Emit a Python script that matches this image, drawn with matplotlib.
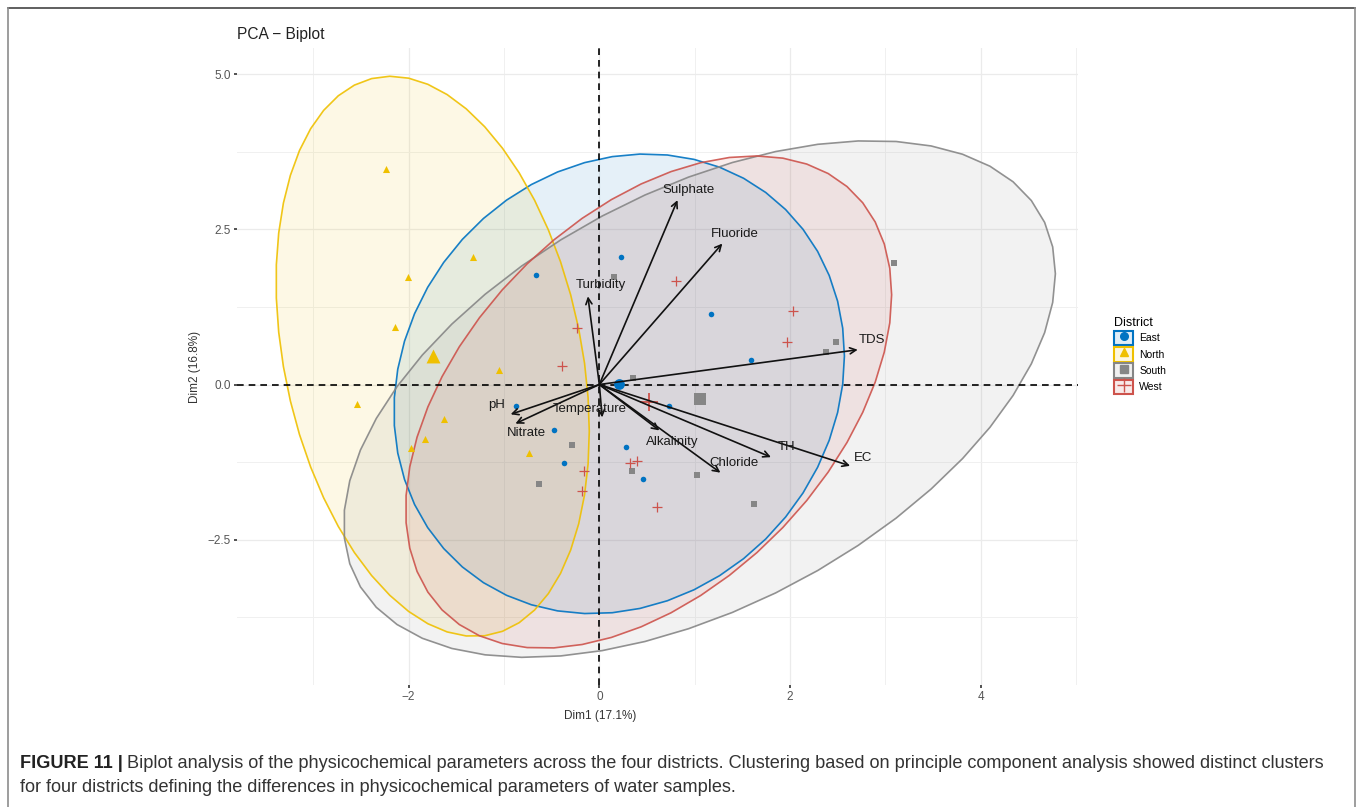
import numpy as np
import matplotlib
matplotlib.use("Agg")
import matplotlib.pyplot as plt
from matplotlib.patches import Polygon, Patch
from matplotlib.lines import Line2D
from matplotlib.legend_handler import HandlerTuple

plt.rcParams['font.family'] = ['Liberation Sans', 'DejaVu Sans']

# individual sample coordinates on the first two dimensions
districts = ['East', 'North', 'South', 'West']
east_x = [0.23, -0.66, 1.17, 1.59, -0.87, -0.48, -0.37, 0.28, 0.46, 0.73]
east_y = [2.06, 1.76, 1.13, 0.39, -0.35, -0.74, -1.26, -1.00, -1.53, -0.35]
north_x = [-2.24, -2.01, -1.32, -2.14, -1.05, -2.54, -1.63, -1.83, -1.98, -0.74]
north_y = [3.47, 1.73, 2.05, 0.92, 0.24, -0.32, -0.55, -0.87, -1.02, -1.11]
south_x = [0.15, 0.35, -0.29, -0.63, 0.34, 1.02, 3.09, 2.48, 2.38, 1.62]
south_y = [1.73, 0.11, -0.97, -1.60, -1.40, -1.45, 1.95, 0.69, 0.53, -1.93]
west_x = [0.80, -0.23, -0.39, -0.16, -0.18, 0.32, 0.40, 0.61, 2.03, 1.97]
west_y = [1.66, 0.91, 0.30, -1.40, -1.71, -1.26, -1.23, -1.97, 1.19, 0.68]

# variable loadings (arrow tips)
variables = ['Sulphate', 'Fluoride', 'Turbidity', 'TDS', 'pH', 'Nitrate',
             'Temperature', 'Alkalinity', 'Chloride', 'TH', 'EC']
var_x = [0.82, 1.29, -0.12, 2.71, -0.93, -0.88, 0.03, 0.63, 1.27, 1.80, 2.63]
var_y = [2.97, 2.27, 1.42, 0.56, -0.48, -0.63, -0.53, -0.74, -1.42, -1.17, -1.31]

dim1_pct = 17.1
dim2_pct = 16.8

groups = {
    'East': (east_x, east_y),
    'North': (north_x, north_y),
    'South': (south_x, south_y),
    'West': (west_x, west_y),
}
colors = {'East': '#0073C2', 'North': '#EFC000', 'South': '#868686', 'West': '#CD534C'}
markers = {'East': 'o', 'North': '^', 'South': 's', 'West': '+'}
pt_size = {'East': 16, 'North': 26, 'South': 18, 'West': 60}
mean_size = {'East': 60, 'North': 100, 'South': 65, 'West': 180}

# label offsets from the arrow tips, in points
label_off = {
    'Sulphate': (8, 7), 'Fluoride': (9, 7), 'Turbidity': (9, 8), 'TDS': (10, 7),
    'pH': (-10, 7), 'Nitrate': (8, -7), 'Temperature': (-9, 6), 'Alkalinity': (9, -8),
    'Chloride': (10, 7), 'TH': (11, 7), 'EC': (9, 6),
}


def norm_ellipse(x, y, level=0.95, segments=51):
    # same construction as ggplot2 stat_ellipse(type = "norm")
    pts = np.column_stack([x, y])
    n = len(pts)
    center = pts.mean(axis=0)
    cov = np.cov(pts, rowvar=False)
    d = n - 1
    qf = d / 2.0 * ((1 - level) ** (-2.0 / d) - 1)
    radius = np.sqrt(2 * qf)
    t = np.linspace(0, 2 * np.pi, segments + 1)
    circle = np.column_stack([np.cos(t), np.sin(t)])
    chol = np.linalg.cholesky(cov).T
    return center + radius * circle @ chol


W, H = 1362, 807
fig = plt.figure(figsize=(W / 100, H / 100), dpi=100)
ax = fig.add_axes([237 / W, 1 - 685 / H, (1078 - 237) / W, (685 - 48) / H])
ax.set_xlim(-3.80, 5.02)
ax.set_ylim(-4.84, 5.42)

ax.set_xticks([-2, 0, 2, 4])
ax.set_yticks([-2.5, 0, 2.5, 5.0])
ax.set_xticks([-3, -1, 1, 3, 5], minor=True)
ax.set_yticks([-3.75, -1.25, 1.25, 3.75], minor=True)
ax.grid(which='major', color='#EBEBEB', lw=0.9)
ax.grid(which='minor', color='#F0F0F0', lw=0.7)
ax.set_axisbelow(True)
for s in ax.spines.values():
    s.set_visible(False)
ax.tick_params(which='major', length=2.5, width=1.1, color='#222222',
               labelsize=8.5, labelcolor='#555555', pad=2)
ax.tick_params(which='minor', length=0)

for name in districts:
    ex = norm_ellipse(*groups[name])
    ax.add_patch(Polygon(ex, closed=True, facecolor=colors[name], alpha=0.1,
                         edgecolor='none', zorder=1))
    ax.add_patch(Polygon(ex, closed=True, facecolor='none',
                         edgecolor=colors[name], lw=1.2, alpha=0.9, zorder=1.5))

ax.axhline(0, color='black', lw=1.2, ls=(0, (4, 3)), zorder=2)
ax.axvline(0, color='black', lw=1.2, ls=(0, (4, 3)), zorder=2)

for name in districts:
    gx, gy = groups[name]
    lw = 0.9 if markers[name] == '+' else 0
    ax.scatter(gx, gy, s=pt_size[name], marker=markers[name], color=colors[name],
               linewidths=lw, zorder=3)
    ax.scatter([np.mean(gx)], [np.mean(gy)], s=mean_size[name], marker=markers[name],
               color=colors[name], linewidths=1.3 if lw else 0, zorder=3)

for name, vx, vy in zip(variables, var_x, var_y):
    ax.annotate('', xy=(vx, vy), xytext=(0, 0),
                arrowprops=dict(arrowstyle='->', lw=1.2, color='#111111',
                                shrinkA=0, shrinkB=0, mutation_scale=11),
                zorder=4)
    ax.annotate(name, xy=(vx, vy), xytext=label_off[name], textcoords='offset points',
                ha='center', va='center', fontsize=9.5, color='#1a1a1a', zorder=5)

ax.set_xlabel('Dim1 (%.1f%%)' % dim1_pct, fontsize=8.5, color='#333333')
ax.set_ylabel('Dim2 (%.1f%%)' % dim2_pct, fontsize=8.5, color='#333333')
ax.xaxis.set_label_coords((600 - 237) / (1078 - 237), -(710 - 685) / (685 - 48))
ax.yaxis.set_label_coords(-(237 - 201) / (1078 - 237), 0.5)
fig.text(237 / W, 1 - 34 / H, 'PCA \u2212 Biplot', fontsize=11.2, color='#222222',
         va='center', ha='left')

handles = []
for name in districts:
    box = Patch(facecolor=colors[name], edgecolor='none', alpha=0.12)
    edge = Patch(facecolor='none', edgecolor=colors[name], lw=1.5)
    mk = Line2D([], [], marker=markers[name], color=colors[name], ls='none',
                markersize=5.5 if name != 'West' else 10, mew=1.0)
    handles.append((box, edge, mk))
leg = fig.legend(handles, districts, handler_map={tuple: HandlerTuple(ndivide=1, pad=0)},
                 loc='upper left', bbox_to_anchor=(1110 / W, 1 - 313 / H),
                 frameon=False, title='District', fontsize=7.5, title_fontsize=9,
                 handlelength=1.8, handleheight=1.8, labelspacing=0.15,
                 handletextpad=0.6, borderaxespad=0)
leg._legend_box.align = 'left'

# frame around the figure panel
frame_c = '#8c8c8c'
fig.add_artist(Line2D([8 / W, 1355 / W], [1 - 8 / H, 1 - 8 / H], transform=fig.transFigure,
                      color='#444444', lw=1.2))
fig.add_artist(Line2D([8 / W, 8 / W], [0, 1 - 8 / H], transform=fig.transFigure,
                      color=frame_c, lw=1.2))
fig.add_artist(Line2D([1355 / W, 1355 / W], [0, 1 - 8 / H], transform=fig.transFigure,
                      color=frame_c, lw=1.2))

cap_size = 13.1
line1 = ('Biplot analysis of the physicochemical parameters across the four districts. '
         'Clustering based on principle component analysis showed distinct clusters')
line2 = ('for four districts defining the differences in physicochemical parameters '
         'of water samples.')
t_bold = fig.text(20 / W, 1 - 763 / H, 'FIGURE 11 |', fontsize=cap_size, weight='bold',
                  color='#222222', va='center', ha='left')
fig.canvas.draw()
bb = t_bold.get_window_extent()
fig.text((bb.x1 + 4) / W, 1 - 763 / H, line1, fontsize=cap_size, color='#333333',
         va='center', ha='left')
fig.text(20 / W, 1 - 787 / H, line2, fontsize=cap_size, color='#333333',
         va='center', ha='left')

fig.savefig('out.png', dpi=100)
